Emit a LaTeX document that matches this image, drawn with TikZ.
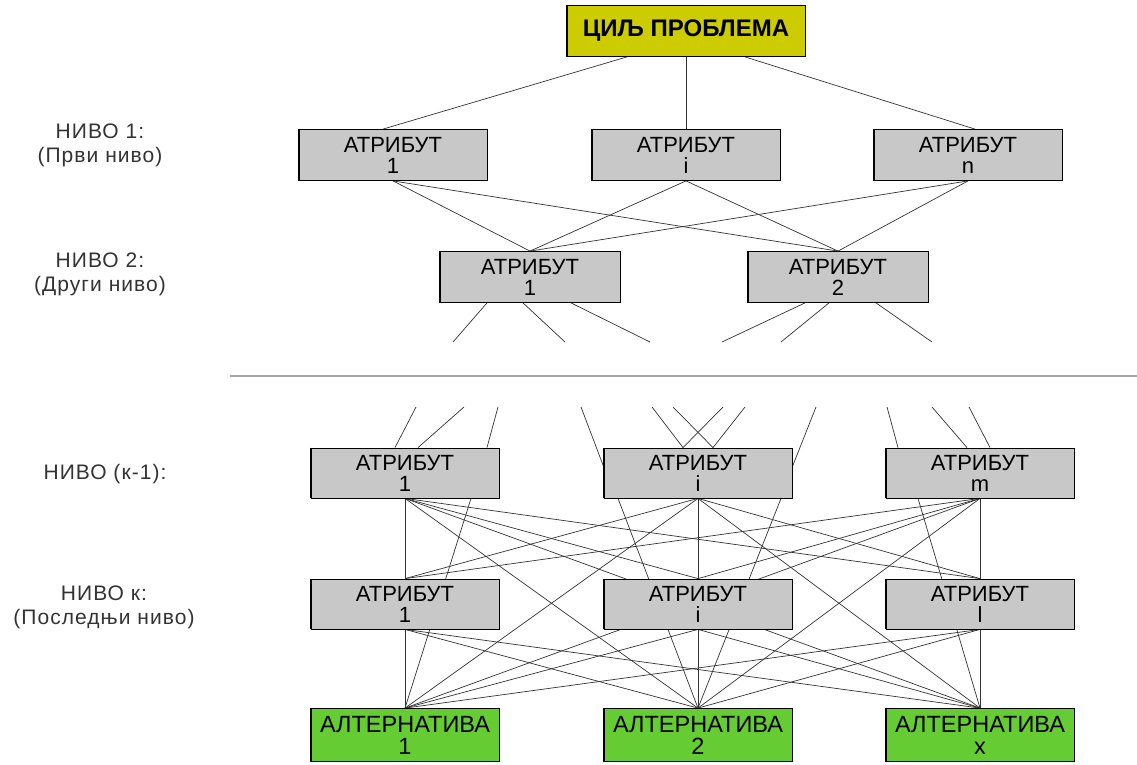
\documentclass[tikz,border=0pt]{standalone}
\usepackage{fontspec}
\setmainfont{Liberation Sans}
\newfontfamily\lvlfont[LetterSpace=5]{Liberation Sans}
\usetikzlibrary{positioning,calc,backgrounds}
\definecolor{boxgray}{RGB}{200,200,200}
\definecolor{goalyellow}{RGB}{204,204,0}
\definecolor{altgreen}{RGB}{102,204,51}

\begin{document}
\begin{tikzpicture}[x=1pt,y=-1pt,
	box/.style={draw,line width=0.8pt,fill=boxgray,minimum width=188,minimum height=51,inner sep=0pt,align=center,font=\fontsize{22}{21}\selectfont},
	goal/.style={box,fill=goalyellow,minimum width=238,minimum height=51,font=\bfseries\fontsize{24}{24}\selectfont},
	alt/.style={box,fill=altgreen,minimum height=53,font=\fontsize{23.5}{22}\selectfont},
	lvl/.style={align=center,text=black!80,font=\lvlfont\fontsize{21}{24}\selectfont},
	link/.style={black!80,line width=0.7pt}]
\useasboundingbox (0,0) rectangle (1137,765);

\node[goal](g) at (686,31) {ЦИЉ ПРОБЛЕМА};

\node[box](a1) at (393,155) {АТРИБУТ\\1};
\node[box](ai) at (686,155) {АТРИБУТ\\i};
\node[box](an) at (968,155) {АТРИБУТ\\n};

\node[box,minimum width=180](b1) at (530,277) {АТРИБУТ\\1};
\node[box,minimum width=180](b2) at (838,277) {АТРИБУТ\\2};

\node[box,minimum height=50](c1) at (405,473) {АТРИБУТ\\1};
\node[box,minimum height=50](ci) at (698,473) {АТРИБУТ\\i};
\node[box,minimum height=50](cm) at (980,473) {АТРИБУТ\\m};

\node[box,minimum height=50](d1) at (405,604) {АТРИБУТ\\1};
\node[box,minimum height=50](di) at (698,604) {АТРИБУТ\\i};
\node[box,minimum height=50](dl) at (980,604) {АТРИБУТ\\l};

\node[alt](x1) at (405,735) {АЛТЕРНАТИВА\\1};
\node[alt](x2) at (698,735) {АЛТЕРНАТИВА\\2};
\node[alt](xx) at (980,735) {АЛТЕРНАТИВА\\x};

% levels
\node[lvl](l1) at (100,145) {НИВО 1:\\(Први ниво)};
\node[lvl](l2) at (100,274) {НИВО 2:\\(Други ниво)};
\node[lvl](l3) at (105,474) {НИВО (к-1):};
\node[lvl](l4) at (104,607) {НИВО к:\\(Последњи ниво)};

% shadow edge
\foreach \n in {g,a1,ai,an,b1,b2,c1,ci,cm,d1,di,dl,x1,x2,xx}{
	\draw[line width=1.8pt](\n.north west)--(\n.south west);
}

\begin{pgfonlayer}{background}
\foreach \t/\s/\d in {a1/-59/-10,ai/0/0,an/59/7}{
	\draw[link]($(g.south)+(\s,0)$)--($(\t.north)+(\d,0)$);
}
\foreach \x in {a1,ai,an}{
	\foreach \y in {b1,b2}{
		\draw[link](\x.south)--(\y.north);
	}
}
\foreach[count=\c] \n/\dx/\x in {b1/-43/453,b1/-7/565,b1/41/650,b2/-33/722,b2/-9/781,b2/38/932}{
	\coordinate(s\c) at (\x,342);
	\draw[link]($(\n.south)+(\dx,0)$)--(s\c);
}
\foreach[count=\c] \x/\n/\a/\dx/\dy in {416/c1/north/-10/0,464/c1/north/13/0,498/c1/north/82/0,
	581/ci/north west/0/19,652/ci/north/-15/0,673/ci/north/15/0,723/ci/north/-15/0,745/ci/north/15/0,816/ci/north east/0/19,
	887/cm/north/-82/0,932/cm/north/-13/0,969/cm/north/10/0}{
	\coordinate(t\c) at (\x,407);
	\draw[link](t\c)--($(\n.\a)+(\dx,\dy)$);
}
\foreach \x in {c1,ci,cm}{
	\foreach \y in {d1,di,dl,x1,x2,xx}{
		\draw[link](\x.south)--(\y.north);
	}
}
\foreach \x/\dx/\y in {c1/66/x1,ci/-80/x2,ci/83/x2,cm/-62/xx}{
	\draw[link]($(\x.south)+(\dx,0)$)--(\y.north);
}
\foreach \x in {d1,di,dl}{
	\foreach \y in {x1,x2,xx}{
		\draw[link](\x.south)--(\y.north);
	}
}
\end{pgfonlayer}

\draw[gray!70,line width=1.6pt](230,376)--(1137,376);
\end{tikzpicture}
\end{document}
